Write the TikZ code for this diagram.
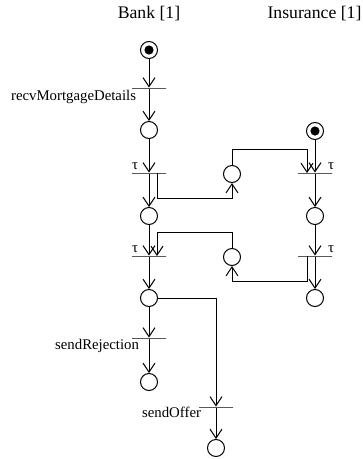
\documentclass[tikz,border=0pt]{standalone}
\usepackage{fontspec}
\setmainfont{Liberation Serif}
\usetikzlibrary{arrows.meta}

\begin{document}
\begin{tikzpicture}[x=1pt, y=-1pt, line width=1pt,
    place/.style={draw, circle, minimum size=17pt, inner sep=0pt},
    start/.style={place, path picture={\fill (path picture bounding box.center) circle (4.6pt);}},
    trans/.style={draw, rectangle, minimum width=34pt, minimum height=0pt, inner sep=0pt},
    arr/.style={-{Straight Barb[length=9pt,width=12pt]}},
    lab/.style={font=\fontsize{14.8}{16}\selectfont, inner sep=0pt},
    head/.style={font=\fontsize{17.7}{20}\selectfont, inner sep=0pt}]
	\useasboundingbox (0,0) rectangle (363,459);
	\node[head] (bankT) at (149,14) {Bank [1]};
	\node[head] (insT) at (314.5,14) {Insurance [1]};
	% bank
	\node[start] (b0) at (149,50) {};
	\node[trans] (recv) at (149,88) {};
	\node[place] (b1) at (149,130) {};
	\node[trans] (tb1) at (149,173) {};
	\node[place] (b2) at (149,216) {};
	\node[trans] (tb2) at (149,256) {};
	\node[place] (b3) at (149,298) {};
	\node[trans] (rej) at (149,338) {};
	\node[place] (b4) at (149,382) {};
	\node[trans] (offer) at (216,407) {};
	\node[place] (b5) at (216,448) {};
	% channels
	\node[place] (c1) at (232,174) {};
	\node[place] (c2) at (232,257) {};
	% insurance
	\node[start] (i0) at (315,131) {};
	\node[trans] (ti1) at (315,173) {};
	\node[place] (i1) at (315,216) {};
	\node[trans] (ti2) at (315,256) {};
	\node[place] (i2) at (315,298) {};
	% labels
	\node[lab, anchor=north east] (recvL) at ([xshift=5pt, yshift=-2pt]recv.west) {recvMortgageDetails};
	\node[lab, anchor=north east] (rejL) at ([xshift=8pt, yshift=-1pt]rej.west) {sendRejection};
	\node[lab, anchor=north east] (offerL) at ([xshift=3pt, yshift=0pt]offer.west) {sendOffer};
	\node[lab, anchor=base west] (tauB1) at ([yshift=4pt]tb1.west) {τ};
	\node[lab, anchor=base west] (tauB2) at ([yshift=4pt]tb2.west) {τ};
	\node[lab, anchor=base east] (tauI1) at ([xshift=2pt, yshift=4pt]ti1.east) {τ};
	\node[lab, anchor=base east] (tauI2) at ([xshift=2pt, yshift=4pt]ti2.east) {τ};
	% arcs
	\draw[arr] (b0) -- (recv);
	\draw[arr] (recv) -- (b1);
	\draw[arr] (b1) -- (tb1);
	\draw[arr] (tb1) -- (b2);
	\draw[arr] ([xshift=8pt]tb1.center) -- ++(0,25) -| (c1);
	\draw[arr] (c1.north) -- ++(0,-16) -| ([xshift=-8pt]ti1.center);
	\draw[arr] (i0) -- (ti1);
	\draw[arr] (ti1) -- (i1);
	\draw[arr] (b2) -- (tb2);
	\draw[arr] (c2.north) -- ++(0,-16) -| ([xshift=8pt]tb2.center);
	\draw[arr] (tb2) -- (b3);
	\draw[arr] (i1) -- (ti2);
	\draw[arr] (ti2) -- (i2);
	\draw[arr] ([xshift=-8pt]ti2.center) -- ++(0,25) -| (c2);
	\draw[arr] (b3) -- (rej);
	\draw[arr] (rej) -- (b4);
	\draw[arr] (b3.east) -| (offer);
	\draw[arr] (offer) -- (b5);
\end{tikzpicture}
\end{document}
